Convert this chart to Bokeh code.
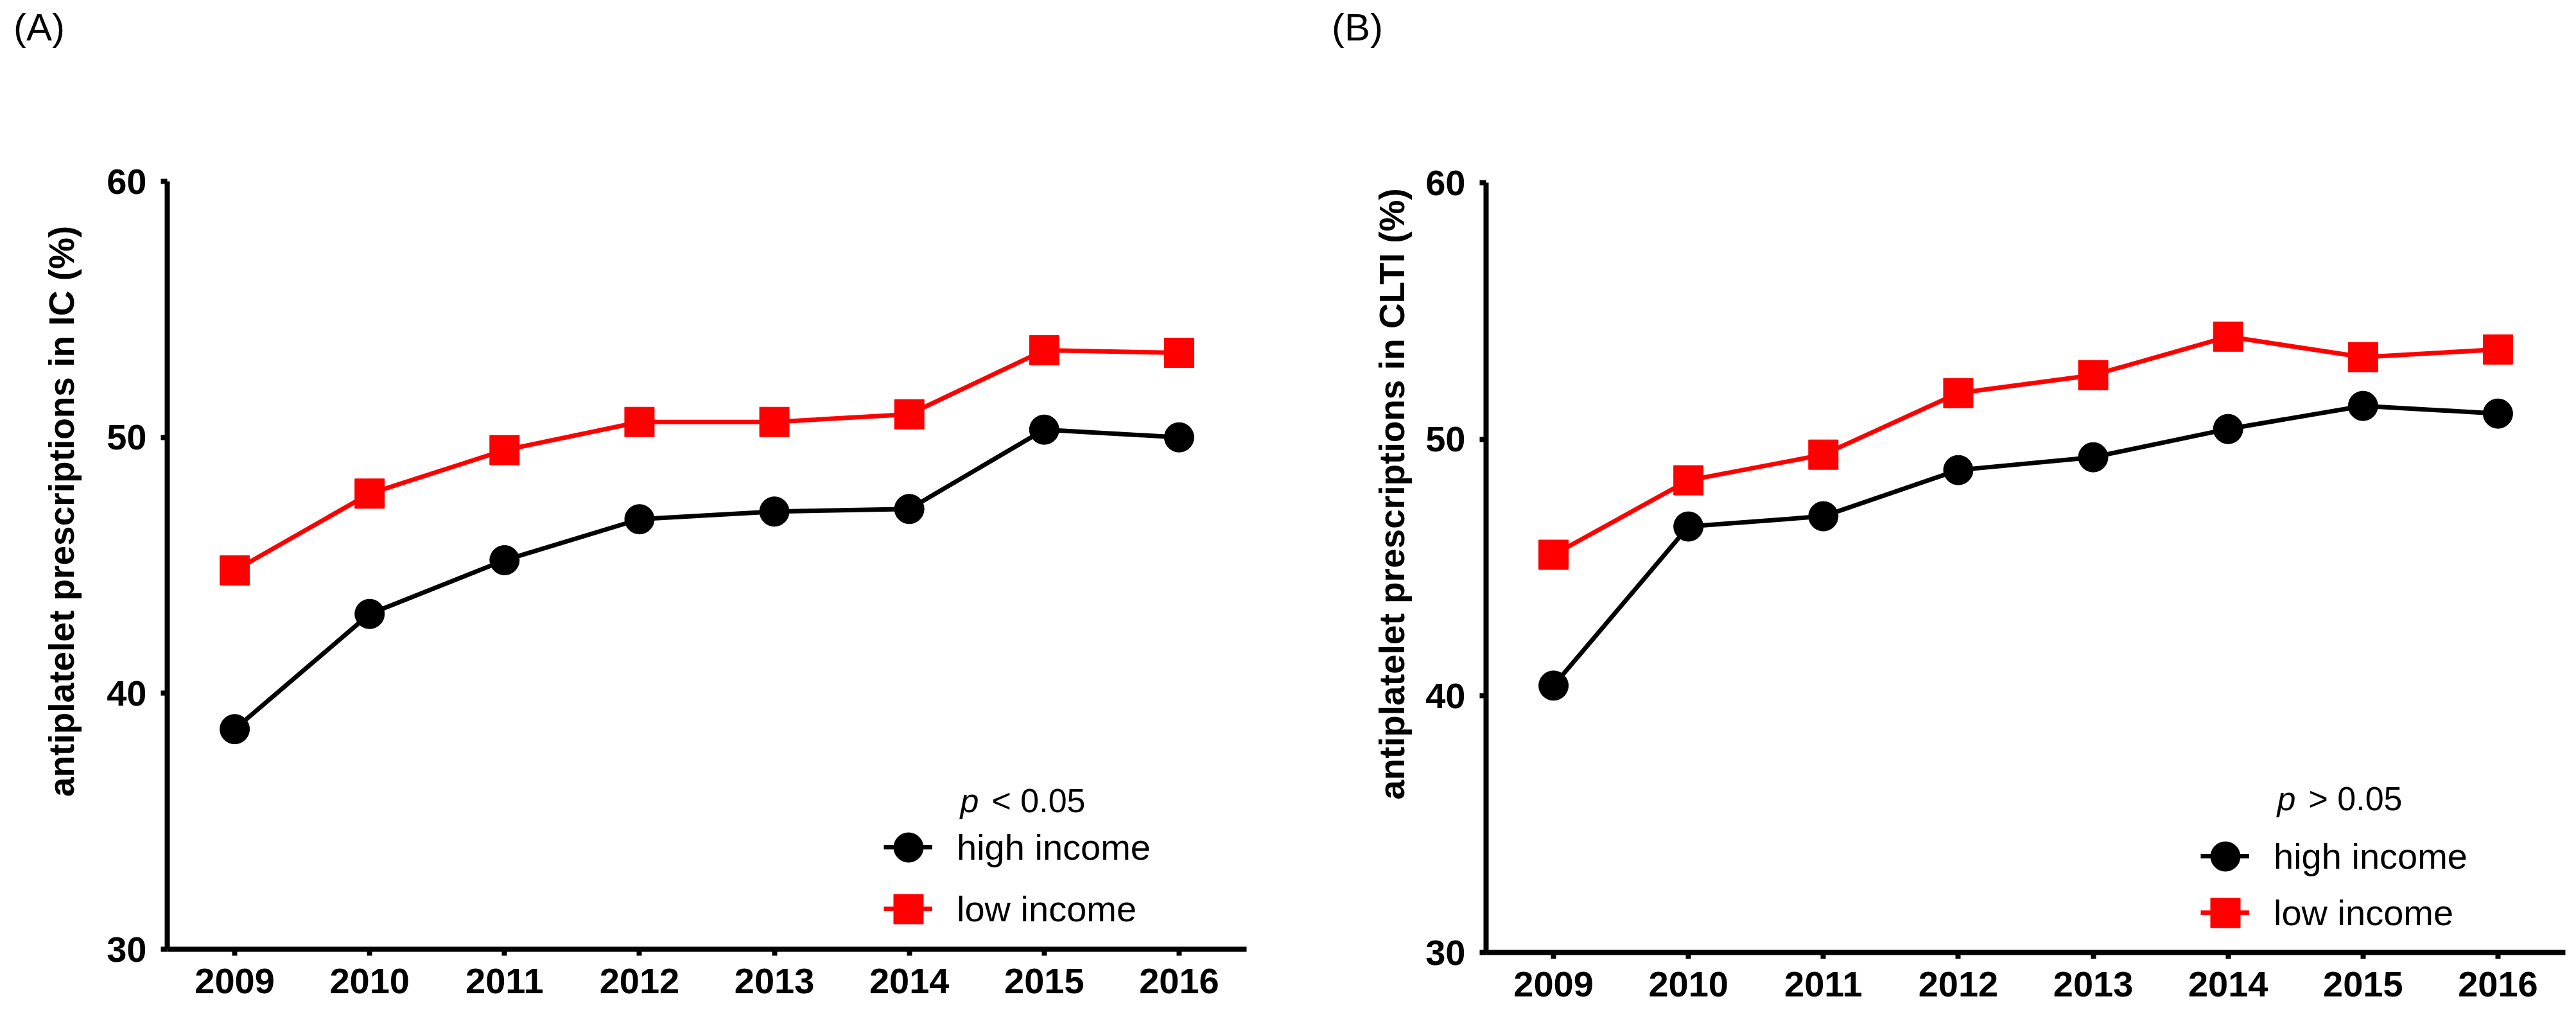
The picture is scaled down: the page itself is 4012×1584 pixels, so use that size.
from bokeh.plotting import figure
from bokeh.layouts import row, column
from bokeh.models import FixedTicker, Label, Legend, LegendItem, Div
from bokeh.embed import file_html
from bokeh.resources import INLINE

# ---------------- data ----------------
years = [2009, 2010, 2011, 2012, 2013, 2014, 2015, 2016]
year_labels = ["2009", "2010", "2011", "2012", "2013", "2014", "2015", "2016"]
y_ticks = [30, 40, 50, 60]

ic_high = [38.6, 43.1, 45.2, 46.8, 47.1, 47.2, 50.3, 50.0]
ic_low = [44.8, 47.8, 49.5, 50.6, 50.6, 50.9, 53.4, 53.3]
clti_high = [40.4, 46.6, 47.0, 48.8, 49.3, 50.4, 51.3, 51.0]
clti_low = [45.5, 48.4, 49.4, 51.8, 52.5, 54.0, 53.2, 53.5]

series_names = ["high income", "low income"]
panel_tags = ["(A)", "(B)"]
y_titles = ["antiplatelet prescriptions in IC (%)", "antiplatelet prescriptions in CLTI (%)"]
p_signs = ["<", ">"]
p_value = "0.05"

FONT = "Liberation Sans"
BLACK = "#000000"
RED = "#ff0000"
W = 1998
TAG_H = 80
FIG_H = 1568 - TAG_H
NBSP = "\u00a0"


def make_panel(tag, tag_pad, ytitle, ylab_shift, high, low, sign, borders, leg,
               ylab_standoff, p_y):
    left, right, top, bottom = borders
    p = figure(width=W, height=FIG_H, x_range=(2008.5, 2016.5), y_range=(30, 60),
               output_backend="svg", toolbar_location=None,
               min_border_left=left, min_border_right=right,
               min_border_top=top - TAG_H, min_border_bottom=bottom)
    p.grid.visible = False
    p.outline_line_color = None
    p.background_fill_color = "white"
    p.border_fill_color = "white"

    xa = p.xaxis[0]
    ya = p.yaxis[0]
    xa.ticker = FixedTicker(ticks=years)
    xa.major_label_overrides = {y: l for y, l in zip(years, year_labels)}
    ya.ticker = FixedTicker(ticks=y_ticks)
    for ax in (xa, ya):
        ax.axis_line_width = 8
        ax.axis_line_color = BLACK
        ax.major_tick_line_width = 8
        ax.major_tick_line_color = BLACK
        ax.major_tick_out = 10
        ax.major_tick_in = 0
        ax.minor_tick_line_color = None
        ax.major_label_text_font = FONT
        ax.major_label_text_font_style = "bold"
        ax.major_label_text_font_size = "56px"
        ax.major_label_text_color = BLACK
    xa.major_label_standoff = 20
    ya.major_label_standoff = 22
    # leading no-break spaces move the title up along the axis, as in the original
    ya.axis_label = NBSP * ylab_shift + ytitle
    ya.axis_label_text_font = FONT
    ya.axis_label_text_font_style = "bold"
    ya.axis_label_text_font_size = "55px"
    ya.axis_label_text_color = BLACK
    ya.axis_label_standoff = ylab_standoff

    lh = p.line(years, high, line_color=BLACK, line_width=7)
    ll = p.line(years, low, line_color=RED, line_width=7)
    sh = p.scatter(years, high, marker="circle", size=46, fill_color=BLACK, line_color=BLACK)
    sl = p.scatter(years, low, marker="square", size=46, fill_color=RED, line_color=RED)

    cx, cy_high, cy_low = leg
    item_h = 70
    lines_legend = Legend(
        items=[LegendItem(label=series_names[0], renderers=[lh]),
               LegendItem(label=series_names[1], renderers=[ll])],
        location=(cx - 38, cy_low - item_h / 2),
        glyph_width=76, glyph_height=item_h, label_height=item_h,
        label_standoff=38, spacing=int(cy_high - cy_low - item_h),
        padding=0, margin=0, border_line_alpha=0, background_fill_alpha=0,
        label_text_font=FONT, label_text_font_size="56px", label_text_color=BLACK)
    p.add_layout(lines_legend)
    for rend, cy in ((sh, cy_high), (sl, cy_low)):
        mk = Legend(items=[LegendItem(label=" ", renderers=[rend])],
                    location=(cx - 57.5, cy - 57.5),
                    glyph_width=115, glyph_height=115, label_height=115,
                    label_standoff=0, label_width=0, padding=0, margin=0,
                    border_line_alpha=0, background_fill_alpha=0,
                    label_text_font_size="4px")
        p.add_layout(mk)

    px = cx + 81
    p.add_layout(Label(x=px, y=p_y, x_units="screen", y_units="screen", text="p",
                       text_font=FONT, text_font_style="italic", text_font_size="52px",
                       text_color=BLACK, text_baseline="alphabetic"))
    p.add_layout(Label(x=px + 49, y=p_y, x_units="screen", y_units="screen",
                       text=sign + " " + p_value,
                       text_font=FONT, text_font_size="52px",
                       text_color=BLACK, text_baseline="alphabetic"))

    tag_div = Div(
        text=('<div style="font-family:\'Liberation Sans\';font-size:60px;'
              'line-height:normal;color:#000;margin:0;padding:3px 0 0 %dpx;">%s</div>'
              % (tag_pad, tag)),
        width=W, height=TAG_H)
    return column(tag_div, p)


pA = make_panel(panel_tags[0], 16, y_titles[0], 11, ic_high, ic_low, p_signs[0],
                (260, 57, 272, 100), (1154, 159, 63), 36, 232)
pB = make_panel(panel_tags[1], 61, y_titles[1], 15, clti_high, clti_low, p_signs[1],
                (306, 11, 274, 95), (1151, 150, 62), 18, 240)

layout = row(pA, pB)
open("out.html", "w").write(file_html(layout, INLINE))
